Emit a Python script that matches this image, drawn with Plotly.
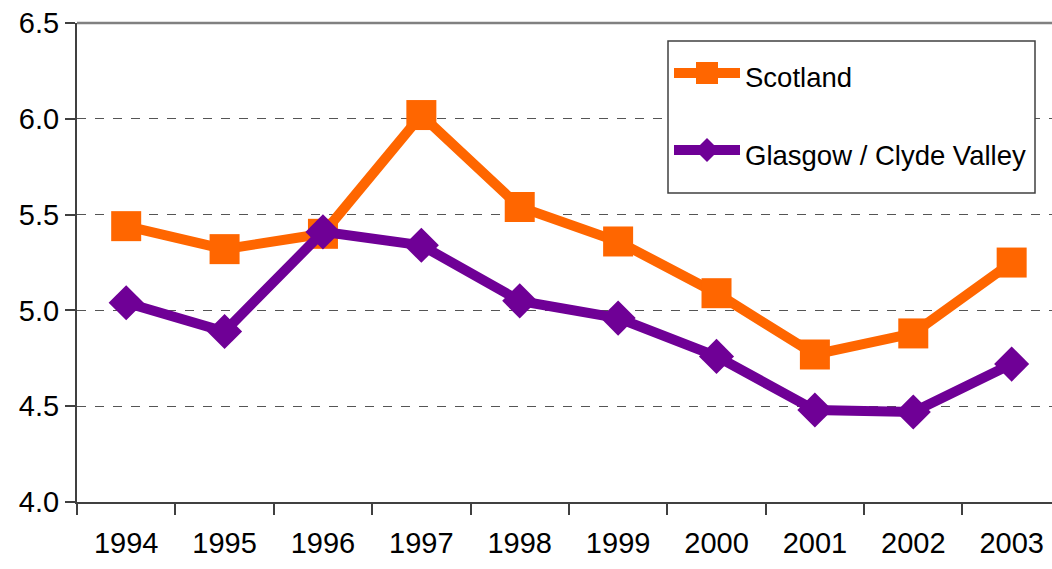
import plotly.graph_objects as go

years = ["1994", "1995", "1996", "1997", "1998", "1999", "2000", "2001", "2002", "2003"]
scotland = [5.44, 5.32, 5.40, 6.02, 5.54, 5.36, 5.09, 4.77, 4.88, 5.25]
glasgow = [5.04, 4.89, 5.41, 5.34, 5.05, 4.96, 4.76, 4.48, 4.47, 4.72]
series_names = ["Scotland", "Glasgow / Clyde Valley"]
y_ticks = [4.0, 4.5, 5.0, 5.5, 6.0, 6.5]
y_labels = ["4.0", "4.5", "5.0", "5.5", "6.0", "6.5"]

ORANGE = "#FF6600"
PURPLE = "#6F0096"
FONT = "Liberation Sans, Arial, sans-serif"
FS = 29
LFS = 27.5

W, H = 1052, 569
# plot area in page pixels
L, R, T, B = 77, 1052, 23, 502


def px(x):
    return (x - L) / (R - L)


def py(y):
    return (B - y) / (B - T)


fig = go.Figure()
fig.add_trace(go.Scatter(x=years, y=scotland, name=series_names[0], mode="lines+markers",
                         line=dict(color=ORANGE, width=10),
                         marker=dict(symbol="square", size=30, color=ORANGE),
                         showlegend=False))
fig.add_trace(go.Scatter(x=years, y=glasgow, name=series_names[1], mode="lines+markers",
                         line=dict(color=PURPLE, width=10),
                         marker=dict(symbol="diamond", size=27, color=PURPLE),
                         showlegend=False))

shapes = []
# top border of plot
shapes.append(dict(type="line", xref="paper", yref="paper", x0=0, x1=1, y0=1, y1=1,
                   line=dict(color="#808080", width=2.5)))
# legend box
shapes.append(dict(type="rect", xref="paper", yref="paper", x0=px(668), x1=px(1035),
                   y0=py(193), y1=py(41), line=dict(color="#404040", width=1.5),
                   fillcolor="white", layer="above"))
annotations = []
for i, (name, col, sym) in enumerate(zip(series_names, [ORANGE, PURPLE], ["sq", "di"])):
    yc = 73 + i * 77
    shapes.append(dict(type="line", xref="paper", yref="paper", x0=px(674), x1=px(740),
                       y0=py(yc), y1=py(yc), line=dict(color=col, width=10), layer="above"))
    if sym == "sq":
        h = 11
        path = (f"M{px(707-h)},{py(yc-h)} L{px(707+h)},{py(yc-h)} "
                f"L{px(707+h)},{py(yc+h)} L{px(707-h)},{py(yc+h)} Z")
    else:
        h = 12
        path = (f"M{px(707)},{py(yc-h)} L{px(707+h)},{py(yc)} "
                f"L{px(707)},{py(yc+h)} L{px(707-h)},{py(yc)} Z")
    shapes.append(dict(type="path", xref="paper", yref="paper", path=path,
                       fillcolor=col, line=dict(color=col, width=0), layer="above"))
    annotations.append(dict(xref="paper", yref="paper", x=px(743), y=py(yc + 5),
                            xanchor="left", yanchor="middle", showarrow=False,
                            text=name, font=dict(family=FONT, size=LFS, color="black")))

fig.update_layout(
    width=W, height=H,
    margin=dict(l=L, r=W - R, t=T, b=H - B, pad=0),
    paper_bgcolor="white", plot_bgcolor="white",
    font=dict(family=FONT, size=FS, color="black"),
    shapes=shapes, annotations=annotations,
    hovermode=False,
    xaxis=dict(type="category", range=[-0.5, 9.41], tickson="boundaries",
               ticks="outside", ticklen=11, tickcolor="#404040", tickwidth=1.5,
               showline=True, linecolor="#404040", linewidth=2, showgrid=False,
               ticklabelstandoff=14,
               tickfont=dict(family=FONT, size=FS, color="black")),
    yaxis=dict(range=[4.0, 6.5005], tickmode="array", tickvals=y_ticks, ticktext=y_labels,
               ticks="outside", ticklen=10, tickcolor="#404040", tickwidth=1.5,
               showline=True, linecolor="#404040", linewidth=2,
               showgrid=True, gridcolor="#555555", gridwidth=1, griddash="dash",
               zeroline=False,
               tickfont=dict(family=FONT, size=FS, color="black")),
)

fig.write_html("out.html", config={"displayModeBar": False},
               post_script="document.body.style.margin='0';document.body.style.overflow='hidden';")
